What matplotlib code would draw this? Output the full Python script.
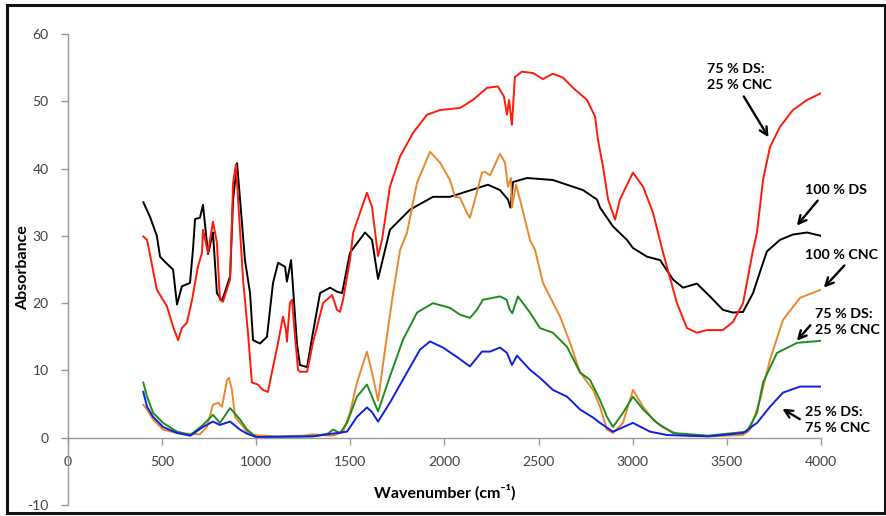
import matplotlib
matplotlib.use("Agg")
import matplotlib.pyplot as plt
from matplotlib.patches import Rectangle

plt.rcParams['font.family'] = ['Lato', 'DejaVu Sans']
plt.rcParams['axes.unicode_minus'] = False

# ---- data ----
ds100_x = [400, 436, 472, 489, 520, 558, 579, 605, 648, 664, 675, 701, 717, 744, 770, 791, 818, 861, 877,
           898, 914, 940, 967, 983, 1020, 1057, 1089, 1116, 1153, 1163, 1185, 1216, 1232, 1270, 1301, 1339,
           1392, 1429, 1456, 1498, 1578, 1615, 1647, 1710, 1817, 1939, 2029, 2119, 2231, 2295, 2337, 2350,
           2364, 2438, 2576, 2736, 2810, 2826, 2895, 2969, 3001, 3076, 3145, 3214, 3267, 3341, 3410, 3479,
           3532, 3586, 3639, 3692, 3713, 3782, 3851, 3926, 4000]
ds100_y = [35.0, 32.8, 30.0, 26.9, 26.0, 25.0, 19.8, 22.5, 23.0, 28.0, 32.5, 32.7, 34.6, 27.3, 30.5, 21.5,
           20.3, 24.0, 35.4, 40.8, 35.4, 26.4, 21.5, 14.5, 14.0, 15.0, 23.0, 26.0, 25.4, 23.2, 26.4, 14.1,
           10.8, 10.5, 15.6, 21.5, 22.3, 21.7, 21.5, 27.5, 30.5, 29.4, 23.6, 30.9, 33.9, 35.8, 35.8, 36.6,
           37.6, 36.8, 35.4, 34.2, 38.0, 38.6, 38.3, 36.8, 35.4, 34.2, 31.4, 29.4, 28.2, 26.9, 26.4, 23.5,
           22.3, 22.9, 21.0, 19.0, 18.6, 18.7, 21.5, 26.0, 27.7, 29.4, 30.2, 30.5, 30.0]

ds75_x = [400, 420, 472, 526, 558, 585, 605, 632, 659, 690, 712, 717, 744, 770, 791, 807, 823, 861, 877,
          892, 930, 956, 977, 1009, 1036, 1062, 1089, 1116, 1142, 1158, 1163, 1179, 1190, 1206, 1222, 1232,
          1270, 1301, 1355, 1403, 1429, 1445, 1461, 1498, 1515, 1562, 1588, 1615, 1647, 1668, 1710, 1764,
          1833, 1907, 1976, 2082, 2151, 2226, 2284, 2316, 2332, 2343, 2358, 2374, 2411, 2470, 2523, 2576,
          2630, 2683, 2757, 2800, 2815, 2842, 2869, 2906, 2932, 3001, 3055, 3108, 3161, 3235, 3288, 3341,
          3394, 3479, 3532, 3586, 3639, 3660, 3692, 3729, 3782, 3851, 3926, 4000]
ds75_y = [29.9, 29.4, 22.0, 19.5, 16.5, 14.5, 16.3, 17.1, 20.5, 25.4, 27.5, 30.9, 27.5, 32.1, 29.0, 20.5,
          20.2, 23.5, 37.9, 40.6, 23.5, 15.6, 8.2, 7.9, 7.1, 6.8, 10.5, 14.1, 18.0, 16.0, 14.3, 20.0, 20.5,
          15.0, 10.1, 9.8, 9.8, 14.1, 20.0, 21.2, 19.0, 18.7, 20.5, 26.4, 30.5, 34.3, 36.4, 34.3, 27.0,
          29.4, 37.3, 41.8, 45.3, 48.0, 48.7, 49.0, 50.2, 52.0, 52.2, 50.7, 48.0, 50.2, 46.5, 53.6, 54.4,
          54.2, 53.3, 54.1, 53.5, 52.0, 50.2, 47.7, 44.3, 40.3, 35.4, 32.4, 35.4, 39.4, 37.3, 33.4, 27.5,
          20.0, 16.3, 15.6, 16.0, 16.0, 17.2, 20.0, 27.9, 30.5, 38.3, 43.2, 46.2, 48.7, 50.2, 51.2]

cnc100_x = [400, 420, 452, 505, 579, 700, 738, 770, 797, 818, 845, 855, 871, 887, 914, 951, 983, 1100,
            1250, 1300, 1400, 1460, 1498, 1535, 1588, 1615, 1647, 1684, 1727, 1764, 1801, 1854, 1923, 1976,
            2029, 2056, 2082, 2119, 2135, 2162, 2199, 2215, 2242, 2295, 2321, 2337, 2353, 2358, 2380, 2401,
            2454, 2481, 2523, 2614, 2667, 2720, 2789, 2826, 2863, 2895, 2948, 3001, 3055, 3108, 3161, 3251,
            3400, 3586, 3623, 3676, 3729, 3798, 3889, 4000]
cnc100_y = [4.9, 4.2, 2.7, 1.2, 0.7, 0.5, 1.6, 4.9, 5.2, 4.6, 8.6, 8.9, 7.1, 3.1, 2.2, 0.9, 0.4, 0.2,
            0.3, 0.5, 0.3, 0.8, 3.7, 8.2, 12.8, 9.7, 5.5, 13.1, 21.5, 27.9, 30.5, 37.9, 42.5, 40.9,
            38.3, 35.8, 35.7, 33.4, 32.7, 35.4, 39.4, 39.5, 39.0, 42.2, 40.9, 37.3, 38.6, 34.2, 37.6, 35.4,
            29.4, 27.9, 23.0, 18.0, 14.1, 9.7, 7.1, 4.6, 1.2, 0.7, 2.2, 7.1, 4.6, 2.7, 1.5, 0.4,
            0.2, 0.4, 1.2, 5.6, 11.6, 17.5, 20.8, 22.0]

ds75b_x = [400, 420, 452, 505, 579, 650, 717, 770, 807, 861, 914, 951, 1000, 1300, 1380, 1408, 1445,
           1482, 1535, 1588, 1615, 1647, 1710, 1780, 1854, 1939, 2029, 2082, 2135, 2172, 2204, 2295, 2330,
           2347, 2360, 2390, 2454, 2507, 2576, 2651, 2720, 2773, 2826, 2863, 2895, 2948, 3001, 3055, 3129,
           3214, 3400, 3607, 3660, 3692, 3766, 3873, 4000]
ds75b_y = [8.2, 6.1, 3.7, 2.2, 0.9, 0.4, 1.9, 3.4, 2.2, 4.4, 2.7, 1.2, 0.1, 0.2, 0.6, 1.2, 0.7,
           2.2, 6.1, 7.9, 6.1, 3.9, 9.1, 14.6, 18.6, 20.0, 19.3, 18.3, 17.8, 19.0, 20.5, 21.0, 20.5,
           19.0, 18.5, 21.0, 18.6, 16.3, 15.6, 13.5, 9.7, 8.6, 5.6, 3.1, 1.6, 3.7, 6.1, 4.2, 2.2,
           0.7, 0.3, 0.9, 3.7, 8.2, 12.6, 14.1, 14.4]

ds25_x = [400, 420, 452, 505, 579, 650, 717, 770, 807, 861, 914, 951, 1000, 1300, 1482, 1535, 1588,
          1615, 1647, 1710, 1801, 1870, 1923, 1992, 2066, 2135, 2199, 2242, 2295, 2332, 2358, 2385, 2454,
          2507, 2576, 2651, 2720, 2789, 2826, 2895, 3001, 3092, 3182, 3400, 3586, 3660, 3729, 3798, 3889, 4000]
ds25_y = [6.8, 4.6, 3.1, 1.6, 0.7, 0.3, 1.6, 2.4, 1.9, 2.4, 1.2, 0.6, 0.1, 0.2, 0.9, 3.1, 4.5,
          3.8, 2.4, 5.2, 9.7, 13.1, 14.3, 13.4, 12.0, 10.6, 12.8, 12.8, 13.4, 12.6, 10.8, 12.2, 10.1,
          8.9, 7.1, 6.1, 4.2, 3.0, 2.2, 0.9, 2.2, 0.9, 0.4, 0.2, 0.7, 2.2, 4.6, 6.7, 7.6, 7.6]

x_ticks = [0, 500, 1000, 1500, 2000, 2500, 3000, 3500, 4000]
y_ticks = [-10, 0, 10, 20, 30, 40, 50, 60]

# ---- figure ----
W, H = 887, 516
fig = plt.figure(figsize=(W / 100, H / 100), dpi=100)
ax = fig.add_axes([68 / W, 1 - 505 / H, (821 - 68) / W, (505 - 34) / H])

lw = 1.4
ax.plot(ds100_x, ds100_y, color='black', lw=lw)
ax.plot(ds75_x, ds75_y, color='#ff1a0a', lw=lw)
ax.plot(cnc100_x, cnc100_y, color='#e8892e', lw=lw)
ax.plot(ds75b_x, ds75b_y, color='#1e8c1e', lw=lw)
ax.plot(ds25_x, ds25_y, color='#1020e0', lw=lw)

ax.set_xlim(0, 4000)
ax.set_ylim(-10, 60)
ax.set_xticks(x_ticks)
ax.set_yticks(y_ticks)

for s in ['top', 'right']:
    ax.spines[s].set_visible(False)
ax.spines['bottom'].set_position(('data', 0))
for s in ['left', 'bottom']:
    ax.spines[s].set_color('#999999')
    ax.spines[s].set_linewidth(1.0)
ax.tick_params(axis='both', colors='#999999', labelcolor='#404040', labelsize=10, length=5, width=1.0)
ax.tick_params(axis='x', direction='out', pad=8)
ax.tick_params(axis='y', direction='out', pad=9)

fig.text(23 / W, 1 - 268 / H, 'Absorbance', rotation=90, ha='center', va='center',
         fontsize=11.5, fontweight='bold')
fig.text(445 / W, 1 - 492 / H, 'Wavenumber (cm\u207b\u00b9)', ha='center', va='center',
         fontsize=11.5, fontweight='bold')

# annotations
aprops = dict(arrowstyle='->', color='black', lw=1.7, mutation_scale=14)
tk = dict(fontsize=10.3, fontweight='bold', annotation_clip=False, linespacing=1.45)
ax.annotate('75 % DS:\n25 % CNC', xy=(3729, 44.3), xytext=(3394, 53.6),
            ha='left', va='center', arrowprops=dict(aprops, relpos=(0.52, 0.0)), **tk)
ax.annotate('100 % DS', xy=(3862, 31.2), xytext=(3915, 36.85),
            ha='left', va='center', arrowprops=dict(aprops, relpos=(0.27, 0.0)), **tk)
ax.annotate('100 % CNC', xy=(4005, 22.0), xytext=(3915, 27.2),
            ha='left', va='center', arrowprops=dict(aprops, relpos=(0.6, 0.0)), **tk)
ax.annotate('75 % DS:\n25 % CNC', xy=(3862, 14.1), xytext=(3968, 17.2),
            ha='left', va='center', arrowprops=dict(aprops, relpos=(0.0, 0.57)), **tk)
ax.annotate('25 % DS:\n75 % CNC', xy=(3782, 4.5), xytext=(3915, 2.6),
            ha='left', va='center', arrowprops=dict(aprops, relpos=(0.0, 0.43)), **tk)

fig.patches.append(Rectangle((7 / W, 3 / H), (885 - 7) / W, (513 - 5) / H, transform=fig.transFigure,
                             fill=False, edgecolor='#111111', lw=2.2))

fig.savefig('out.png', dpi=100)
